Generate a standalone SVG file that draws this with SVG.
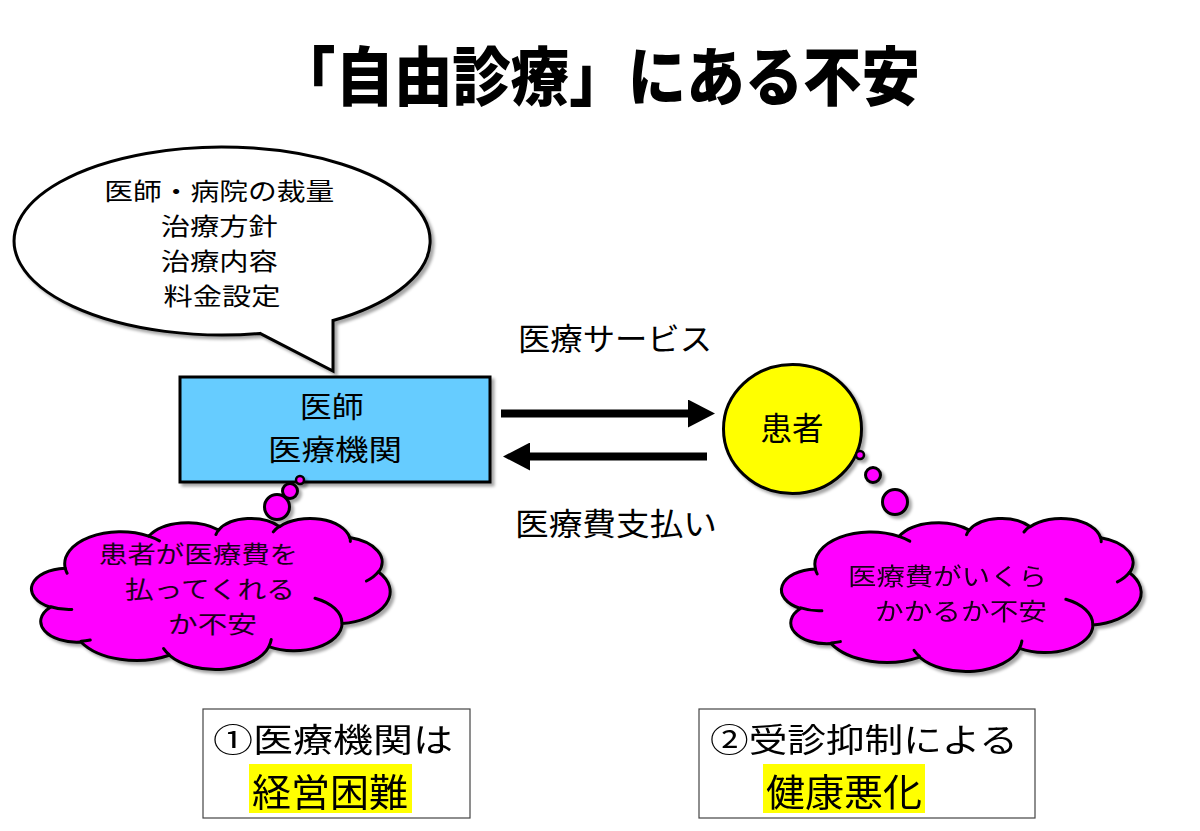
<svg xmlns="http://www.w3.org/2000/svg" width="1200" height="831" viewBox="0 0 1200 831">
<style>
.t{font-family:"Noto Sans CJK JP","Noto Sans",sans-serif;fill:#000}
.ct{fill:#1a001a;font-size:24px}
.ol{stroke:#000;stroke-width:3;vector-effect:non-scaling-stroke;stroke-linejoin:round}
.mag{fill:#ff00ff}
.crease{fill:none;stroke:#000;stroke-width:3;vector-effect:non-scaling-stroke;stroke-linecap:round}
.res{fill:#fff;stroke:#444;stroke-width:1.2}
.hl{fill:#ffff00}
</style>
<defs>
<filter id="sh" x="-10%" y="-10%" width="130%" height="130%">
<feDropShadow dx="3" dy="3" stdDeviation="1.5" flood-color="#000" flood-opacity="0.35"/>
</filter>
<marker id="ah" markerUnits="userSpaceOnUse" markerWidth="27" markerHeight="28" refX="0" refY="14" orient="auto" viewBox="0 0 27 28">
<path d="M0,0 L27,14 L0,28 Z" fill="#000"/>
</marker>
</defs>

<rect width="1200" height="831" fill="#fff"/>

<g id="title">
<text class="t" x="277" y="100" font-size="64" font-weight="900" textLength="643" lengthAdjust="spacingAndGlyphs">「自由診療」にある不安</text>
</g>

<g id="speech-bubble">
<path filter="url(#sh)" d="M260,333.4 L333,371 L333,320.5 A208,94 0 1 0 260,333.4 Z" fill="#fff" stroke="#000" stroke-width="3" stroke-linejoin="miter"/>
<text class="t" font-size="24" text-anchor="middle">
<tspan x="222" y="200" textLength="230" lengthAdjust="spacingAndGlyphs">医師・病院の裁量</tspan>
<tspan x="222" y="235" textLength="117" lengthAdjust="spacingAndGlyphs">治療方針</tspan>
<tspan x="222" y="270" textLength="117" lengthAdjust="spacingAndGlyphs">治療内容</tspan>
<tspan x="222" y="305" textLength="117" lengthAdjust="spacingAndGlyphs">料金設定</tspan>
</text>
</g>

<g id="doctor">
<rect filter="url(#sh)" x="180" y="377" width="310" height="105" fill="#66ccff" stroke="#000" stroke-width="3"/>
<text class="t" font-size="29" text-anchor="middle">
<tspan x="335" y="418" textLength="64" lengthAdjust="spacingAndGlyphs">医師</tspan>
<tspan x="335" y="461" textLength="134" lengthAdjust="spacingAndGlyphs">医療機関</tspan>
</text>
</g>

<g id="patient">
<ellipse filter="url(#sh)" cx="792.5" cy="429" rx="69" ry="64.5" fill="#ffff00" stroke="#000" stroke-width="3"/>
<text class="t" x="792" y="440" font-size="32" text-anchor="middle" textLength="63" lengthAdjust="spacingAndGlyphs">患者</text>
</g>

<g id="connectors">
<line x1="501" y1="413.5" x2="688" y2="413.5" stroke="#000" stroke-width="8" marker-end="url(#ah)"/>
<line x1="707" y1="456.5" x2="530" y2="456.5" stroke="#000" stroke-width="8" marker-end="url(#ah)"/>
<text class="t" x="518" y="350" font-size="31" textLength="194" lengthAdjust="spacingAndGlyphs">医療サービス</text>
<text class="t" x="515" y="535" font-size="31" textLength="202" lengthAdjust="spacingAndGlyphs">医療費支払い</text>
</g>

<g id="doctor-worry">
<g filter="url(#sh)">
<g transform="translate(33,518) scale(0.0082639,0.0034954)">
<path class="mag ol" d="M3900,14370 A6753,9190 0 0 1 14005,5202 A5333,7267 0 0 1 22456,3433 A4365,5945 0 0 1 29832,2480 A4857,6595 0 0 1 38318,5575 A5333,7273 0 0 1 41818,15459 A6775,9220 0 0 1 37403,30200 A5785,7867 0 0 1 28554,36810 A6752,9215 0 0 1 16479,39262 A7720,10543 0 0 1 5803,35468 A4360,5918 0 0 1 2110,25548 A4345,5945 0 0 1 3900,14370 Z"/>
<path class="crease" d="M4693,26177 A4345,5945 0 0 1 2160,25380 M6928,34899 A4360,5918 0 0 1 5819,35281 M16478,39090 A6752,9215 0 0 1 15809,37350 M28827,34751 A6752,9215 0 0 1 28561,36659 M34129,22954 A5785,7867 0 0 1 37381,30090 M41798,15354 A5333,7273 0 0 1 40350,18031 M38324,5426 A4857,6595 0 0 1 38400,6689 M29078,3952 A4857,6595 0 0 1 29820,2340 M22141,4720 A4365,5945 0 0 1 22500,3330 M14000,5192 A6753,9190 0 0 1 15301,6542 M4127,15789 A6753,9190 0 0 1 3900,14371"/>
</g>
<circle cx="277" cy="507" r="12.5" class="mag" stroke="#000" stroke-width="3"/>
<circle cx="290" cy="491" r="7.5" class="mag" stroke="#000" stroke-width="3"/>
<circle cx="300" cy="480" r="4" class="mag" stroke="#000" stroke-width="2.5"/>
</g>
<text class="t ct">
<tspan x="99" y="563" textLength="199" lengthAdjust="spacingAndGlyphs">患者が医療費を</tspan>
<tspan x="125" y="598" textLength="170" lengthAdjust="spacingAndGlyphs">払ってくれる</tspan>
<tspan x="168" y="633" textLength="89" lengthAdjust="spacingAndGlyphs">か不安</tspan>
</text>
</g>

<g id="patient-worry">
<g filter="url(#sh)">
<g transform="translate(783,518) scale(0.0082870,0.0035417)">
<path class="mag ol" d="M3900,14370 A6753,9190 0 0 1 14005,5202 A5333,7267 0 0 1 22456,3433 A4365,5945 0 0 1 29832,2480 A4857,6595 0 0 1 38318,5575 A5333,7273 0 0 1 41818,15459 A6775,9220 0 0 1 37403,30200 A5785,7867 0 0 1 28554,36810 A6752,9215 0 0 1 16479,39262 A7720,10543 0 0 1 5803,35468 A4360,5918 0 0 1 2110,25548 A4345,5945 0 0 1 3900,14370 Z"/>
<path class="crease" d="M4693,26177 A4345,5945 0 0 1 2160,25380 M6928,34899 A4360,5918 0 0 1 5819,35281 M16478,39090 A6752,9215 0 0 1 15809,37350 M28827,34751 A6752,9215 0 0 1 28561,36659 M34129,22954 A5785,7867 0 0 1 37381,30090 M41798,15354 A5333,7273 0 0 1 40350,18031 M38324,5426 A4857,6595 0 0 1 38400,6689 M29078,3952 A4857,6595 0 0 1 29820,2340 M22141,4720 A4365,5945 0 0 1 22500,3330 M14000,5192 A6753,9190 0 0 1 15301,6542 M4127,15789 A6753,9190 0 0 1 3900,14371"/>
</g>
<circle cx="895" cy="502" r="12.5" class="mag" stroke="#000" stroke-width="3"/>
<circle cx="873" cy="475" r="7.5" class="mag" stroke="#000" stroke-width="3"/>
<circle cx="860" cy="455" r="4" class="mag" stroke="#000" stroke-width="2.5"/>
</g>
<text class="t ct">
<tspan x="848" y="585" textLength="199" lengthAdjust="spacingAndGlyphs">医療費がいくら</tspan>
<tspan x="875" y="620" textLength="172" lengthAdjust="spacingAndGlyphs">かかるか不安</tspan>
</text>
</g>

<g id="result-1">
<rect class="res" x="203" y="709" width="267" height="109"/>
<rect class="hl" x="249" y="764" width="163" height="49"/>
<text class="t" x="213" y="752" font-size="33" textLength="240" lengthAdjust="spacingAndGlyphs">①医療機関は</text>
<text class="t" x="252" y="806" font-size="38" textLength="156" lengthAdjust="spacingAndGlyphs">経営困難</text>
</g>

<g id="result-2">
<rect class="res" x="699" y="709" width="336" height="109"/>
<rect class="hl" x="763" y="764" width="162" height="49"/>
<text class="t" x="710" y="752" font-size="33" textLength="308" lengthAdjust="spacingAndGlyphs">②受診抑制による</text>
<text class="t" x="766" y="806" font-size="38" textLength="156" lengthAdjust="spacingAndGlyphs">健康悪化</text>
</g>
</svg>
